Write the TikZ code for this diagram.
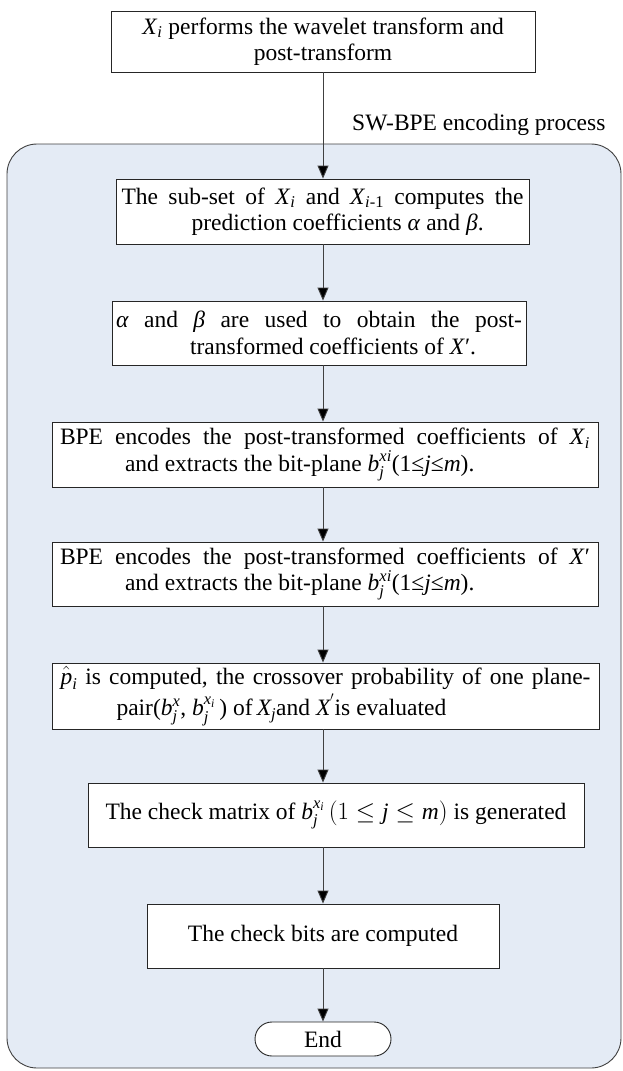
\documentclass[tikz,border=0pt]{standalone}
\usepackage{fontspec}
\usepackage{amsmath}
\setmainfont{Liberation Serif}
\usetikzlibrary{arrows.meta}
\definecolor{panel}{HTML}{E4EBF5}
\definecolor{edgegray}{HTML}{404040}
\newcommand{\ti}[1]{\textit{#1}}
\newcommand{\jline}[4]{\parbox{#1}{\makebox[#1][s]{#2}\\\hspace*{#3}#4}}
\newcommand{\jlinegap}[5]{\parbox{#1}{\makebox[#1][s]{#2}\\[#5]\hspace*{#3}#4}}
\begin{document}
\begin{tikzpicture}[x=1pt,y=-1pt,
  font=\fontsize{23.5}{26.5}\selectfont,
  box/.style={draw=black!85, fill=white, line width=0.9pt, inner sep=0pt},
  arr/.style={draw=edgegray, line width=0.9pt, -{Triangle[length=13pt,width=11pt,fill=black]}},
  panelbox/.style={draw=edgegray, fill=panel, line width=0.9pt, rounded corners=30pt}]
\useasboundingbox (0,0) rectangle (623,1071);
\draw[panelbox] (7,144) rectangle (621,1068);
\coordinate (ax) at (323,0);
\node[box, minimum width=424pt, minimum height=61pt, align=center] (n1) at (323,41.5)
  {\ti{X}\textsubscript{\ti{i}} performs the wavelet transform and\\post-transform};
\node[anchor=east] (lbl) at (609,125) {SW-BPE encoding process};
\node[box, minimum width=413pt, minimum height=65pt] (n2) at (322.5,211.5)
  {\jline{402pt}{The sub-set of \ti{X}\textsubscript{\ti{i}} and \ti{X}\textsubscript{\ti{i}-1} computes the}{70pt}{prediction coefficients \ti{α} and \ti{β}.}};
\node[box, minimum width=414pt, minimum height=64pt] (n3) at (319,333)
  {\jline{406pt}{\ti{α} and \ti{β} are used to obtain the post-}{74pt}{transformed coefficients of \ti{X}′.}};
\node[box, minimum width=546pt, minimum height=65pt] (n4) at (325,454.5)
  {\jline{530pt}{BPE encodes the post-transformed coefficients of \ti{X}\textsubscript{\ti{i}}}{65pt}{and extracts the bit-plane $\ti{b}_{\ti{j}}^{\ti{xi}}$(1≤\ti{j}≤\ti{m}).}};
\node[box, minimum width=546pt, minimum height=64pt] (n5) at (325,574)
  {\jline{530pt}{BPE encodes the post-transformed coefficients of \ti{X}′}{65pt}{and extracts the bit-plane $\ti{b}_{\ti{j}}^{\ti{xi}}$(1≤\ti{j}≤\ti{m}).}};
\node[box, minimum width=547pt, minimum height=66pt] (n6) at (325.5,696)
  {\jlinegap{530pt}{$\hat{\ti{p}}_{\ti{i}}$ is computed, the crossover probability of one plane-}{56pt}{pair($\ti{b}_{\ti{j}}^{\ti{x}}$, $\ti{b}_{\ti{j}}^{\ti{x}_{\ti{i}}}$\,) of$\,\ti{X}_{\ti{j}}$and $\ti{X}^{'}$is evaluated}{3pt}};
\node[box, minimum width=496pt, minimum height=64pt] (n7) at (336,815)
  {The check matrix of $\ti{b}_{\ti{j}}^{\ti{x}_{\ti{i}}}\,(1\leq \ti{j}\leq \ti{m})$ is generated};
\node[box, minimum width=352pt, minimum height=64pt] (n8) at (323,936)
  {The check bits are computed};
\node[box, minimum width=136pt, minimum height=34pt, rounded corners=17pt] (n9) at (323,1039)
  {End};
\draw[arr] (n1.south -| ax) -- (n2.north -| ax);
\draw[arr] (n2.south -| ax) -- (n3.north -| ax);
\draw[arr] (n3.south -| ax) -- (n4.north -| ax);
\draw[arr] (n4.south -| ax) -- (n5.north -| ax);
\draw[arr] (n5.south -| ax) -- (n6.north -| ax);
\draw[arr] (n6.south -| ax) -- (n7.north -| ax);
\draw[arr] (n7.south -| ax) -- (n8.north -| ax);
\draw[arr] (n8.south -| ax) -- (n9.north -| ax);
\end{tikzpicture}
\end{document}
